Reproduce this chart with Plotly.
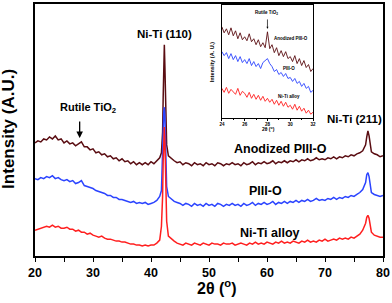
import plotly.graph_objects as go

# ---------------- data (main XRD patterns, arbitrary intensity units) ----------------
two_theta = ([20 + 0.5 * i for i in range(44)]
             + [41.8, 42.0, 42.1, 42.2, 42.3, 42.4, 42.5, 42.7, 43.0]
             + [43.5 + 0.5 * i for i in range(67)]
             + [77.0, 77.2, 77.4, 77.6, 77.8, 78.0]
             + [78.5, 79.0, 79.5, 80.0])

anodized = ([114, 116, 115, 118, 117, 120, 118, 121, 117, 118,
             114, 116, 113, 114, 111, 113, 115, 110, 110, 107,
             108, 104, 105, 102, 103, 100, 101, 98, 99, 96,
             98, 95, 96, 93, 95, 92, 94, 92, 94, 92,
             95, 93, 96, 99]
            + [104, 125, 160, 200, 213, 190, 150, 112, 101]
            + [98, 96, 94, 95, 92, 94, 93, 91, 94, 92,
               93, 91, 94, 92, 93, 91, 94, 93, 91, 93,
               92, 94, 92, 93, 91, 94, 92, 93, 95, 92,
               94, 93, 95, 93, 94, 96, 93, 95, 94, 96,
               94, 96, 95, 97, 95, 97, 96, 98, 96, 97,
               99, 97, 98, 97, 99, 98, 100, 98, 100, 99,
               101, 100, 102, 101, 103, 104, 106]
            + [112, 120, 126, 121, 111, 105]
            + [103, 102, 100, 101])

piii_o = ([78, 77, 79, 78, 80, 79, 81, 78, 79, 77,
           76, 77, 75, 76, 73, 74, 76, 71, 70, 69,
           68, 66, 65, 64, 63, 61, 61, 59, 59, 57,
           57, 56, 55, 54, 55, 53, 54, 53, 54, 52,
           53, 54, 56, 60]
          + [66, 95, 125, 145, 150, 140, 110, 70, 60]
          + [57, 55, 54, 53, 51, 53, 52, 50, 53, 51,
             52, 50, 53, 51, 52, 50, 53, 52, 50, 52,
             51, 53, 51, 52, 50, 53, 51, 52, 54, 51,
             53, 52, 54, 52, 53, 55, 52, 54, 53, 55,
             53, 55, 54, 56, 54, 56, 55, 57, 55, 56,
             58, 56, 57, 56, 58, 57, 59, 57, 59, 58,
             60, 59, 61, 60, 62, 64, 67]
          + [74, 82, 84, 80, 70, 64]
          + [62, 61, 60, 61])

niti_alloy = ([26, 27, 28, 29, 30, 29, 31, 29, 30, 28,
               28, 29, 27, 27, 25, 26, 24, 24, 22, 23,
               21, 20, 19, 20, 18, 17, 17, 16, 15, 15,
               14, 14, 13, 12, 12, 11, 11, 10, 11, 10,
               11, 11, 13, 16]
              + [30, 60, 95, 120, 130, 115, 80, 35, 20]
              + [17, 15, 13, 12, 11, 13, 12, 11, 13, 12,
                 11, 13, 12, 11, 13, 12, 12, 11, 13, 12,
                 12, 13, 11, 12, 13, 12, 11, 13, 12, 14,
                 12, 13, 12, 14, 13, 12, 14, 13, 15, 13,
                 14, 13, 15, 14, 13, 15, 14, 16, 14, 15,
                 14, 16, 15, 17, 15, 16, 17, 16, 18, 17,
                 18, 17, 19, 18, 20, 22, 26]
              + [33, 39, 41, 38, 30, 24]
              + [21, 20, 19, 19])

# ---------------- data (inset, 24-32 deg) ----------------
inset_theta = [24 + 0.2 * i for i in range(41)]
inset_anodized = [92, 86, 90, 84, 91, 83, 88, 80, 86, 79,
                  82, 78, 85, 77, 80, 74, 79, 72, 76, 71,
                  87, 70, 74, 66, 71, 63, 68, 62, 67, 60,
                  62, 57, 63, 55, 60, 53, 58, 51, 54, 47, 50]
inset_piii_o = [67, 63, 66, 60, 65, 59, 63, 57, 62, 56,
                59, 55, 60, 53, 57, 52, 55, 50, 56, 58,
                60, 55, 52, 47, 49, 44, 46, 42, 45, 40,
                41, 37, 40, 35, 37, 32, 35, 30, 32, 26, 28]
inset_alloy = [30, 26, 31, 25, 29, 27, 24, 30, 23, 27,
               25, 21, 26, 20, 24, 19, 23, 18, 22, 17,
               20, 16, 19, 14, 18, 13, 17, 12, 16, 11,
               13, 9, 14, 8, 12, 7, 10, 5, 8, 4, 6]

x_ticks = [20, 30, 40, 50, 60, 70, 80]
inset_ticks = [24, 26, 28, 30, 32]

BROWN = "#5a0d12"
BLUE = "#2b44ff"
RED = "#ff1f1f"
FONT = "Liberation Sans"

fig = go.Figure()
# main traces (brown underneath, red on top)
for y, c in [(anodized, BROWN), (piii_o, BLUE), (niti_alloy, RED)]:
    fig.add_trace(go.Scatter(x=two_theta, y=y, mode="lines",
                             line=dict(color=c, width=1.5),
                             showlegend=False, hoverinfo="skip"))
# inset traces
for y, c in [(inset_anodized, BROWN), (inset_piii_o, BLUE), (inset_alloy, RED)]:
    fig.add_trace(go.Scatter(x=inset_theta, y=y, mode="lines",
                             line=dict(color=c, width=0.9),
                             xaxis="x2", yaxis="y2",
                             showlegend=False, hoverinfo="skip"))

bold = dict(family=FONT, color="black", weight="bold")

fig.update_layout(
    width=392, height=303,
    margin=dict(l=35, r=9, t=2, b=47),
    paper_bgcolor="white", plot_bgcolor="white",
    xaxis=dict(range=[20, 80], tickvals=x_ticks, ticks="outside", ticklen=4,
               tickwidth=1.2, tickcolor="black",
               minor=dict(dtick=5, ticks="outside", ticklen=4, tickwidth=1.2, tickcolor="black"),
               showline=True, linecolor="black", linewidth=1.5, mirror=True,
               showgrid=False, zeroline=False,
               tickfont=dict(size=12.5, **bold)),
    yaxis=dict(range=[0, 254], showticklabels=False, ticks="",
               showline=True, linecolor="black", linewidth=1.5, mirror=True,
               showgrid=False, zeroline=False),
    xaxis2=dict(domain=[0.537, 0.799], anchor="y2", range=[24, 32],
                tickvals=inset_ticks, ticks="outside", ticklen=2, tickwidth=0.6,
                tickcolor="black",
                minor=dict(dtick=1, ticks="outside", ticklen=1, tickwidth=0.6, tickcolor="black"),
                showline=True, linecolor="black", linewidth=0.8, mirror=True,
                showgrid=False, zeroline=False,
                tickfont=dict(size=4.5, **bold)),
    yaxis2=dict(domain=[0.547, 0.996], anchor="x2", range=[0, 114],
                showticklabels=False, ticks="",
                showline=True, linecolor="black", linewidth=0.8, mirror=True,
                showgrid=False, zeroline=False),
)

ann = []
def add(text, x, y, size, xref="x", yref="y", angle=0):
    ann.append(dict(text=text, x=x, y=y, xref=xref, yref=yref, showarrow=False,
                    textangle=angle, xanchor="center", yanchor="middle",
                    font=dict(size=size, **bold)))

# main labels
add("Ni-Ti (110)", 42.3, 224, 11.5)
add("Ni-Ti (211)", 75.0, 138, 11.5)
add("Anodized PIII-O", 62.4, 108, 12.5)
add("PIII-O", 59.7, 66, 12.5)
add("Ni-Ti alloy", 60.5, 23, 12.5)
add("Rutile TiO<sub>2</sub>", 29.1, 149, 11)
ann.append(dict(x=27.7, y=119, ax=27.7, ay=137, xref="x", yref="y", axref="x", ayref="y",
                text="", showarrow=True, arrowhead=2, arrowsize=1, arrowwidth=1.3,
                arrowcolor="black"))
# axis titles
add("Intensity (A.U.)", -0.075, 0.504, 17, "paper", "paper", -90)
add("2θ (<sup>o</sup>)", 0.523, -0.124, 16, "paper", "paper")

# inset labels
add("Rutile TiO<sub>2</sub>", 27.9, 106, 4.5, "x2", "y2")
ann.append(dict(x=28.0, y=90, ax=28.0, ay=101, xref="x2", yref="y2", axref="x2", ayref="y2",
                text="", showarrow=True, arrowhead=2, arrowsize=0.6, arrowwidth=0.7,
                arrowcolor="black"))
add("Anodized PIII-O", 30.1, 80, 4.5, "x2", "y2")
add("PIII-O", 29.9, 50, 4.5, "x2", "y2")
add("Ni-Ti alloy", 29.9, 22, 4.5, "x2", "y2")
add("Intensity (A. U.)", 0.511, 0.772, 5.5, "paper", "paper", -90)
add("2θ (<sup>o</sup>)", 0.670, 0.504, 5, "paper", "paper")

fig.update_layout(annotations=ann)
fig.write_html("out.html", config={"displayModeBar": False},
               post_script="document.body.style.margin='0px';document.body.style.overflow='hidden';")
